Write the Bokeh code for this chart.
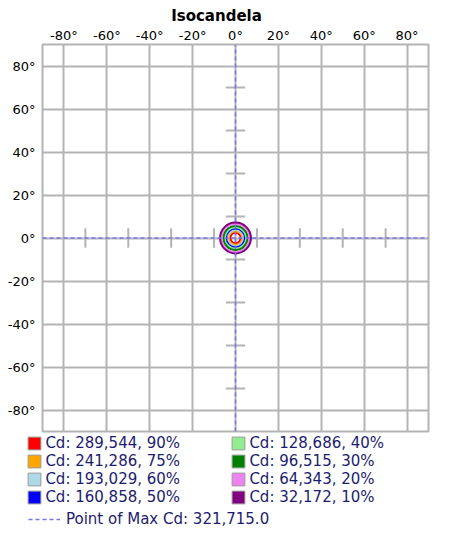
from bokeh.plotting import figure
from bokeh.layouts import column
from bokeh.models import (FixedTicker, PrintfTickFormatter, Legend, LegendItem,
                          Range1d, ColumnDataSource, Label)
from bokeh.embed import file_html
from bokeh.resources import INLINE

# ---------------- data ----------------
title_text = "Isocandela"
axis_ticks = [-80, -60, -40, -20, 0, 20, 40, 60, 80]
minor_marks = [-70, -50, -30, -10, 10, 30, 50, 70]
levels_pct = [90, 75, 60, 50, 40, 30, 20, 10]
levels_cd = ["289,544", "241,286", "193,029", "160,858", "128,686", "96,515", "64,343", "32,172"]
level_colors = ["#FF0000", "#FFA500", "#ADD8E6", "#0000FF", "#90EE90", "#008000", "#EE82EE", "#800080"]
level_radius = [2.4, 3.2, 3.8, 4.4, 5.0, 5.6, 6.5, 7.2]   # degrees
max_x = 0.0
max_y = 0.0
max_cd = "321,715.0"

GRID = "#b4b4b4"
TEXT = "#1c1c70"
FONT = "DejaVu Sans"
MAXCOL = "#7474f0"
W = 444

# ---------------- title strip ----------------
tf = figure(width=W, height=24, x_range=Range1d(0, 1), y_range=Range1d(0, 1),
            output_backend="svg", toolbar_location=None,
            x_axis_location=None, y_axis_location=None,
            min_border=0, outline_line_color=None, frame_align=False,
            background_fill_color="white", border_fill_color="white")
tf.xgrid.visible = False
tf.ygrid.visible = False
tf.add_layout(Label(x=216, y=9, x_units="screen", y_units="screen", text=title_text,
                    text_font=FONT, text_font_style="bold", text_font_size="15px",
                    text_align="center", text_baseline="middle", text_color="black"))

# ---------------- main chart ----------------
p = figure(width=W, height=407, x_range=Range1d(-90, 90), y_range=Range1d(-90, 90),
           output_backend="svg", toolbar_location=None, x_axis_location="above",
           frame_width=386, frame_height=387, frame_align=False,
           min_border_left=42, min_border_right=16, min_border_top=17, min_border_bottom=3,
           background_fill_color="white", border_fill_color="white")

p.outline_line_color = GRID
p.outline_line_width = 2

for ax in (p.xaxis[0], p.yaxis[0]):
    ax.ticker = FixedTicker(ticks=axis_ticks)
    ax.formatter = PrintfTickFormatter(format="%d°")
    ax.axis_line_color = None
    ax.major_tick_line_color = None
    ax.major_tick_out = 0
    ax.minor_tick_line_color = None
    ax.major_label_text_font = FONT
    ax.major_label_text_font_size = "13px"
    ax.major_label_text_color = "black"
p.xaxis[0].major_label_standoff = 2
p.yaxis[0].major_label_standoff = 7

for g in (p.xgrid[0], p.ygrid[0]):
    g.ticker = FixedTicker(ticks=axis_ticks)
    g.grid_line_color = GRID
    g.grid_line_width = 2

# small cross marks on the zero axes
half = 4.5
p.segment(x0=minor_marks, y0=[max_y - half] * len(minor_marks),
          x1=minor_marks, y1=[max_y + half] * len(minor_marks),
          line_color=GRID, line_width=2)
p.segment(x0=[max_x - half] * len(minor_marks), y0=minor_marks,
          x1=[max_x + half] * len(minor_marks), y1=minor_marks,
          line_color=GRID, line_width=2)

# isocandela contours
n = len(level_radius)
csrc = ColumnDataSource(dict(x=[max_x] * n, y=[max_y] * n, r=level_radius, c=level_colors))
p.circle(x="x", y="y", radius="r", source=csrc, fill_color=None, line_color="c", line_width=2)

# point of max lines
xr0, xr1 = p.x_range.start, p.x_range.end
yr0, yr1 = p.y_range.start, p.y_range.end
p.segment(x0=[xr0, max_x], y0=[max_y, yr0], x1=[xr1, max_x], y1=[max_y, yr1],
          line_color=MAXCOL, line_width=1.5, line_dash="4 3")

# ---------------- legend strip ----------------
lf = figure(width=W, height=95, x_range=Range1d(-90, 90), y_range=Range1d(-90, 90),
            output_backend="svg", toolbar_location=None,
            x_axis_location=None, y_axis_location=None,
            min_border=0, outline_line_color=None, frame_align=False,
            background_fill_color="white", border_fill_color="white")
lf.xgrid.visible = False
lf.ygrid.visible = False

items = []
for pct, cd, col in zip(levels_pct, levels_cd, level_colors):
    r = lf.quad(left=[max_x], right=[max_x], bottom=[max_y], top=[max_y],
                fill_color=col, line_color="#9a9a9a", line_width=1, visible=False)
    items.append(LegendItem(label=f"Cd: {cd}, {pct}%", renderers=[r]))

leg = Legend(items=items, location=(26.4, 22.6), orientation="vertical", nrows=4,
             glyph_width=16, glyph_height=16, label_height=18, label_width=185,
             label_standoff=3, spacing=0, padding=0, margin=0,
             border_line_color=None, background_fill_alpha=0,
             label_text_font=FONT, label_text_font_size="15px", label_text_color=TEXT)
lf.add_layout(leg)

mr = lf.segment(x0=[max_x], y0=[max_y], x1=[max_x], y1=[max_y],
                line_color=MAXCOL, line_width=1.5, line_dash="4 3", visible=False)
leg2 = Legend(items=[LegendItem(label=f"Point of Max Cd: {max_cd}", renderers=[mr])],
              location=(28, 1), glyph_width=32, glyph_height=16, label_height=18,
              label_standoff=6, padding=0, margin=0,
              border_line_color=None, background_fill_alpha=0,
              label_text_font=FONT, label_text_font_size="15px", label_text_color=TEXT)
lf.add_layout(leg2)

layout = column(tf, p, lf, spacing=0)
open("out.html", "w").write(file_html(layout, INLINE))
